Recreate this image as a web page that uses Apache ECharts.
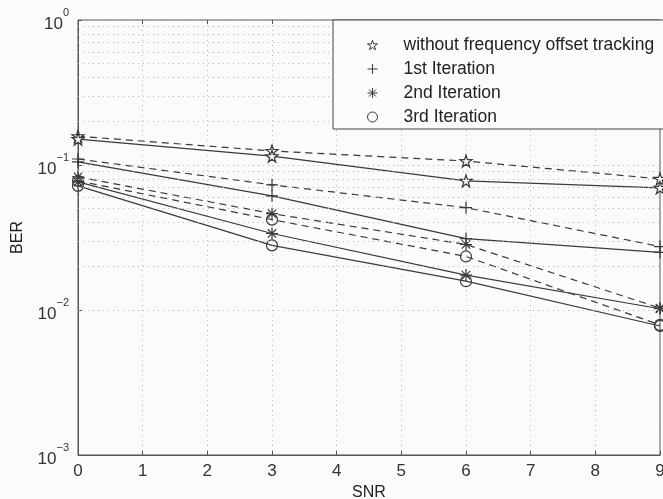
<!DOCTYPE html>
<html>
<head>
<meta charset="utf-8">
<script src="https://cdn.jsdelivr.net/npm/echarts@6/dist/echarts.min.js"></script>
<style>
    html, body { margin: 0; padding: 0; background: #fbfbfb; }
    #chart { width: 663px; height: 499px; }
</style>
</head>
<body>
<div id="chart"></div>
<script>
// SNR points
var snr = [0, 3, 6, 9];

// BER (dashed and solid curve for each legend entry)
var starDashed = [0.158, 0.125, 0.1065, 0.0802];
var starSolid = [0.151, 0.115, 0.0777, 0.0696];
var plusDashed = [0.110, 0.0730, 0.0508, 0.0274];
var plusSolid = [0.105, 0.0613, 0.0311, 0.0250];
var astDashed = [0.0828, 0.0462, 0.0283, 0.0103];
var astSolid = [0.0765, 0.0337, 0.0174, 0.0102];
var circDashed = [0.0777, 0.0420, 0.0234, 0.00789];
var circSolid = [0.0718, 0.0279, 0.0158, 0.00776];

var legendNames = ['without frequency offset tracking', '1st Iteration', '2nd Iteration', '3rd Iteration'];

// minor grid lines of the log axis (2..9 in each decade)
var minorGrid = [];
[0.001, 0.01, 0.1].forEach(function(d) {
    for (var k = 2; k <= 9; k++) minorGrid.push(+(d * k).toPrecision(3));
});

var starPath = 'path://M5,0L6.18,3.62L10,3.62L6.9,5.86L8.09,9.5L5,7.25L1.91,9.5L3.1,5.86L0,3.62L3.82,3.62Z';
var plusPath = 'path://M5,0L5,10M0,5L10,5';
var astPath = 'path://M5,0L5,10M0,5L10,5M1.5,1.5L8.5,8.5M8.5,1.5L1.5,8.5';
var symbols = [starPath, plusPath, astPath, 'circle'];

var bg = '#fbfbfb';
var ink = '#3a3a3a';
var gridDots = { color: '#b8b8b8', width: 1, type: [1, 4] };

var pairs = function(ys) {
    return ys.map(function(y, i) { return [snr[i], y]; });
};

var makeSeries = function(idx, ys, dashed) {
    return {
        name: legendNames[idx],
        type: 'line',
        data: pairs(ys),
        symbol: symbols[idx],
        symbolSize: idx === 3 ? 11 : 12,
        showAllSymbol: true,
        lineStyle: { color: ink, width: 1.2, type: dashed ? [7, 5] : 'solid' },
        itemStyle: { color: idx === 3 ? 'transparent' : bg, borderColor: ink, borderWidth: 1.2 },
        emphasis: { disabled: true },
        z: 3
    };
};

var supFmt = function(v) {
    var e = Math.round(Math.log10(v));
    return '{b|10}{s|' + (e < 0 ? '\u2212' + (-e) : e) + '}';
};

var chart = echarts.init(document.getElementById('chart'));
var option = {
    animation: false,
    backgroundColor: bg,
    textStyle: { fontFamily: 'Liberation Sans' },
    grid: {
        left: 78, top: 20, right: 3, bottom: 44,
        outerBoundsMode: 'none',
        containLabel: false,
        show: true, borderColor: '#555', borderWidth: 1, backgroundColor: 'transparent'
    },
    legend: {
        left: 333, top: 20,
        orient: 'vertical',
        backgroundColor: bg,
        borderColor: '#444', borderWidth: 1,
        padding: [16, 60, 3, 34],
        itemGap: 6,
        itemWidth: 10, itemHeight: 10,
        textStyle: { fontSize: 17.5, color: '#222', padding: [0, 0, 0, 21], fontFamily: 'Liberation Sans' },
        selectedMode: false,
        data: legendNames.map(function(n, i) {
            return { name: n, icon: symbols[i],
                itemStyle: { color: i === 3 ? 'transparent' : bg, borderColor: ink, borderWidth: 1 } };
        }),
        z: 10
    },
    xAxis: [{
        type: 'value', min: 0, max: 9, interval: 1,
        name: 'SNR', nameLocation: 'middle', nameGap: 26,
        nameTextStyle: { fontSize: 16, color: '#222' },
        axisLine: { lineStyle: { color: '#555' } },
        axisTick: { inside: true, length: 4, lineStyle: { color: '#555' } },
        axisLabel: { fontSize: 17, color: '#333', margin: 8 },
        splitLine: { show: true, lineStyle: gridDots }
    }, {
        type: 'value', min: 0, max: 9, interval: 1, position: 'top',
        axisLine: { show: false },
        axisTick: { inside: true, length: 4, lineStyle: { color: '#555' } },
        axisLabel: { show: false },
        splitLine: { show: false }
    }],
    yAxis: [{
        type: 'log', logBase: 10, min: 0.001, max: 1,
        name: 'BER', nameLocation: 'middle', nameGap: 52,
        nameTextStyle: { fontSize: 16, color: '#222' },
        axisLine: { lineStyle: { color: '#555' } },
        axisTick: { inside: true, length: 4, lineStyle: { color: '#555' } },
        axisLabel: {
            margin: 9,
            formatter: supFmt,
            rich: {
                b: { fontSize: 17, color: '#333', verticalAlign: 'bottom', lineHeight: 25 },
                s: { fontSize: 11, color: '#333', verticalAlign: 'top', lineHeight: 25 }
            }
        },
        splitLine: { show: true, lineStyle: gridDots }
    }],
    series: [
        {
            type: 'line', data: [], silent: true,
            markLine: {
                silent: true, symbol: 'none', label: { show: false },
                lineStyle: gridDots,
                emphasis: { disabled: true },
                data: minorGrid.map(function(v) { return { yAxis: v }; })
            },
            z: 1
        },
        makeSeries(0, starDashed, true),
        makeSeries(0, starSolid, false),
        makeSeries(1, plusDashed, true),
        makeSeries(1, plusSolid, false),
        makeSeries(2, astDashed, true),
        makeSeries(2, astSolid, false),
        makeSeries(3, circDashed, true),
        makeSeries(3, circSolid, false)
    ]
};
chart.setOption(option);
</script>
</body>
</html>
